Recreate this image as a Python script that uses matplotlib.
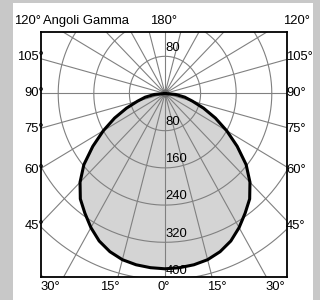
import numpy as np
import matplotlib.pyplot as plt
from matplotlib.patches import Rectangle

# ----------------------------------------
# Data (photometric curve, cd/klm)
# ----------------------------------------
gamma_deg = [0, 5, 10, 15, 20, 25, 30, 35, 40, 45, 50, 55, 60, 65, 70, 75, 80, 85, 90]
intensity = [377, 376, 374, 370, 362, 350, 333, 314, 296, 270, 238, 198, 160, 125, 92, 64, 45, 24, 0]
ring_values = [80, 160, 240, 320, 400]
ring_labels = ["80", "160", "240", "320", "400"]

left_angles = ["105°", "90°", "75°", "60°", "45°"]
right_angles = ["105°", "90°", "75°", "60°", "45°"]
bottom_angles = ["30°", "15°", "0°", "15°", "30°"]

W, H = 320, 300
CX, CY = 165, 93.5        # centre of diagram in pixels
SX, SY = 0.445, 0.465     # pixels per intensity unit (slightly stretched vertically)
fam = "Liberation Sans"
fs = 9.4
plt.rcParams["font.family"] = fam


def px(x, y):
    return x / W, 1 - y / H


fig = plt.figure(figsize=(3.2, 3.0), dpi=100)
fig.patch.set_facecolor("#c8c8c8")
fig.patches.append(Rectangle(px(13, 300), 300 / W, 297 / H, transform=fig.transFigure,
                             facecolor="white", edgecolor="none", zorder=-5))

# axes box in pixels
bx0, bx1, by0, by1 = 41, 287, 32, 277
ax = fig.add_axes([bx0 / W, 1 - by1 / H, (bx1 - bx0) / W, (by1 - by0) / H], zorder=2)
ax.set_facecolor("white")
ax.set_xlim((bx0 - CX) / SX, (bx1 - CX) / SX)
ax.set_ylim(-(by1 - CY) / SY, (CY - by0) / SY)
ax.set_xticks([])
ax.set_yticks([])
for s in ax.spines.values():
    s.set_linewidth(1.3)
    s.set_color("black")
    s.set_zorder(10)

# lobe (symmetric about nadir)
g = np.radians(np.array(gamma_deg))
I = np.array(intensity, dtype=float)
xs = np.concatenate([-(I * np.sin(g))[::-1], (I * np.sin(g))[1:]])
ys = np.concatenate([-(I * np.cos(g))[::-1], -(I * np.cos(g))[1:]])
ax.fill(xs, ys, color="#d4d4d4", zorder=1, lw=0)

# grid: circles and radial lines
t = np.linspace(0, 2 * np.pi, 400)
for r in range(80, 1040, 80):
    ax.plot(r * np.cos(t), r * np.sin(t), color="#808080", lw=0.8, zorder=2)
for a in range(0, 360, 15):
    ar = np.radians(a)
    ax.plot([0, 1000 * np.sin(ar)], [0, -1000 * np.cos(ar)], color="#808080", lw=0.8, zorder=2)
ax.plot(0, 0, "o", color="#6e6e6e", ms=5, zorder=3)

ax.plot(xs, ys, color="black", lw=2.2, zorder=4, solid_joinstyle="round")

# intensity labels (under the curve, over the grid)
ax.text(1, ring_values[0] + 4, ring_labels[0], fontsize=fs, ha="left", va="bottom", zorder=3.5)
for v, lab in zip(ring_values, ring_labels):
    ax.text(1, -v + 6, lab, fontsize=fs, ha="left", va="bottom", zorder=3.5)

# angle labels around the box
for lab, y in zip(left_angles, [57, 93, 129, 170, 226]):
    fig.text(*px(44, y), lab, ha="right", va="center", fontsize=fs, zorder=5)
for lab, y in zip(right_angles, [57, 93, 129, 170, 226]):
    fig.text(*px(286, y), lab, ha="left", va="center", fontsize=fs, zorder=5)
for lab, x in zip(bottom_angles, [50, 110, 164, 217, 275]):
    fig.text(*px(x, 287), lab, ha="center", va="center", fontsize=fs, zorder=5)
fig.text(*px(14, 21), "120°", ha="left", va="center", fontsize=fs, zorder=5)
fig.text(*px(43, 21), "Angoli Gamma", ha="left", va="center", fontsize=fs, zorder=5)
fig.text(*px(164, 21), "180°", ha="center", va="center", fontsize=fs, zorder=5)
fig.text(*px(310, 21), "120°", ha="right", va="center", fontsize=fs, zorder=5)

fig.savefig("out.png", dpi=100, facecolor=fig.get_facecolor())
